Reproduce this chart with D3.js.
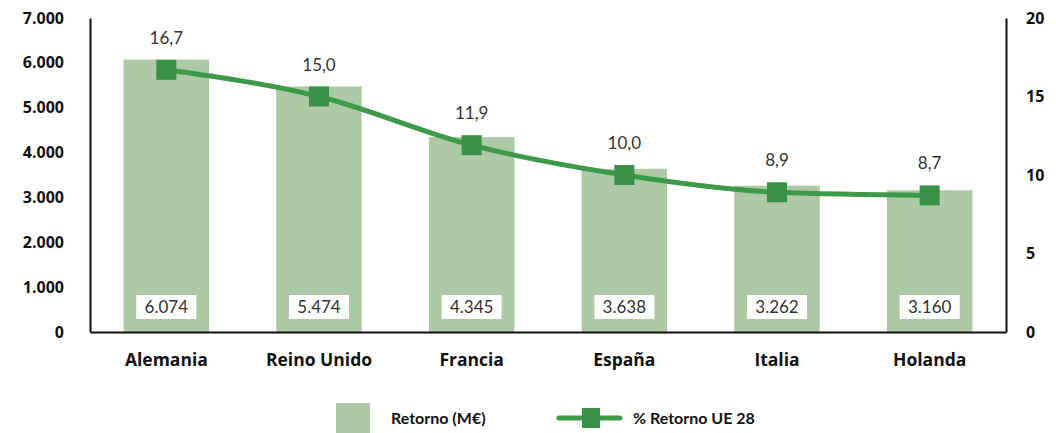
<!DOCTYPE html>
<head>
<meta charset="utf-8">
<style>
  body { margin: 0; background: #fff; }
  text { font-family: "Lato", "Open Sans", sans-serif; }
</style>
<script src="https://cdnjs.cloudflare.com/ajax/libs/d3/7.8.5/d3.min.js"></script>
</head>
<body>
<script>
var paises = ["Alemania", "Reino Unido", "Francia", "España", "Italia", "Holanda"];
var retorno = [6074, 5474, 4345, 3638, 3262, 3160];
var porcentaje = [16.7, 15.0, 11.9, 10.0, 8.9, 8.7];
var ticksIzq = [0, 1000, 2000, 3000, 4000, 5000, 6000, 7000];
var ticksDer = [0, 5, 10, 15, 20];

var width = 1056, height = 433;
var mLeft = 90, mRight = 1006, mTop = 18, mBottom = 332;
var colorBarra = "#aec9a5", colorLinea = "#3d9a48", colorMarca = "#389145";

var svg = d3.select("body").append("svg").attr("width", width).attr("height", height);

var x = d3.scaleBand().domain(paises).range([mLeft, mRight]).paddingInner(0.44).paddingOuter(0.22);
var yIzq = d3.scaleLinear().domain([0, 7000]).range([mBottom, mTop]);
var yDer = d3.scaleLinear().domain([0, 20]).range([mBottom, mTop]);

var fmtMiles = function(v) { var s = String(v); return s.length > 3 ? s.slice(0, s.length - 3) + "." + s.slice(-3) : s; };
var fmtPct = function(v) { return v.toFixed(1).replace(".", ","); };

// barras
svg.selectAll(".barra").data(retorno).enter().append("rect")
  .attr("x", function(d, i) { return x(paises[i]); })
  .attr("y", function(d) { return yIzq(d); })
  .attr("width", x.bandwidth())
  .attr("height", function(d) { return mBottom - yIzq(d); })
  .attr("fill", colorBarra);

// etiquetas de valor en cajas blancas
var cajas = svg.selectAll(".caja").data(retorno).enter().append("g")
  .attr("transform", function(d, i) { return "translate(" + (x(paises[i]) + x.bandwidth() / 2) + ",307)"; });
cajas.append("rect").attr("x", -30).attr("y", -12).attr("width", 60).attr("height", 24).attr("fill", "#fff");
cajas.append("text").attr("text-anchor", "middle").attr("dy", "0.36em")
  .attr("font-size", "17px").attr("fill", "#333")
  .text(function(d) { return fmtMiles(d); });

// ejes
var ejeIzq = d3.axisLeft(yIzq).tickValues(ticksIzq).tickSize(0).tickPadding(26).tickFormat(fmtMiles);
var gIzq = svg.append("g").attr("transform", "translate(" + mLeft + ",0)").call(ejeIzq);
var ejeDer = d3.axisRight(yDer).tickValues(ticksDer).tickSize(0).tickPadding(20);
var gDer = svg.append("g").attr("transform", "translate(" + mRight + ",0)").call(ejeDer);
var ejeX = d3.axisBottom(x).tickSize(0).tickPadding(22);
var gX = svg.append("g").attr("transform", "translate(0," + mBottom + ")").call(ejeX);

[gIzq, gDer, gX].forEach(function(g) {
  g.select(".domain").attr("stroke", "#111").attr("stroke-width", 2);
  g.selectAll("text").style("font-family", "\"Open Sans\", Lato, sans-serif")
    .attr("font-weight", "bold").attr("fill", "#111");
});
gIzq.selectAll("text").attr("font-size", "16px");
gDer.selectAll("text").attr("font-size", "16px");
gX.selectAll("text").attr("font-size", "17.5px");

// línea
var cx = function(i) { return x(paises[i]) + x.bandwidth() / 2; };
var linea = d3.line().x(function(d, i) { return cx(i); }).y(function(d) { return yDer(d); }).curve(d3.curveMonotoneX);
svg.append("path").datum(porcentaje).attr("d", linea)
  .attr("fill", "none").attr("stroke", colorLinea).attr("stroke-width", 5);

svg.selectAll(".marca").data(porcentaje).enter().append("rect")
  .attr("x", function(d, i) { return cx(i) - 10; })
  .attr("y", function(d) { return yDer(d) - 10; })
  .attr("width", 20).attr("height", 20).attr("fill", colorMarca);

svg.selectAll(".pct").data(porcentaje).enter().append("text")
  .attr("x", function(d, i) { return cx(i); })
  .attr("y", function(d) { return yDer(d) - 26; })
  .attr("text-anchor", "middle").attr("font-size", "17px").attr("fill", "#333")
  .text(fmtPct);

// leyenda
var ley = svg.append("g");
ley.append("rect").attr("x", 336).attr("y", 403).attr("width", 34).attr("height", 30).attr("fill", colorBarra);
ley.append("text").attr("x", 391).attr("y", 418).attr("dy", "0.36em").attr("font-size", "16px")
  .attr("font-weight", "bold").attr("fill", "#111").text("Retorno (M€)");
ley.append("line").attr("x1", 559).attr("x2", 620).attr("y1", 418).attr("y2", 418)
  .attr("stroke", colorLinea).attr("stroke-width", 5).attr("stroke-linecap", "round");
ley.append("rect").attr("x", 582).attr("y", 408).attr("width", 18).attr("height", 20).attr("fill", colorMarca);
ley.append("text").attr("x", 633).attr("y", 418).attr("dy", "0.36em").attr("font-size", "16px")
  .attr("font-weight", "bold").attr("fill", "#111").text("% Retorno UE 28");
</script>
</body>
</html>
